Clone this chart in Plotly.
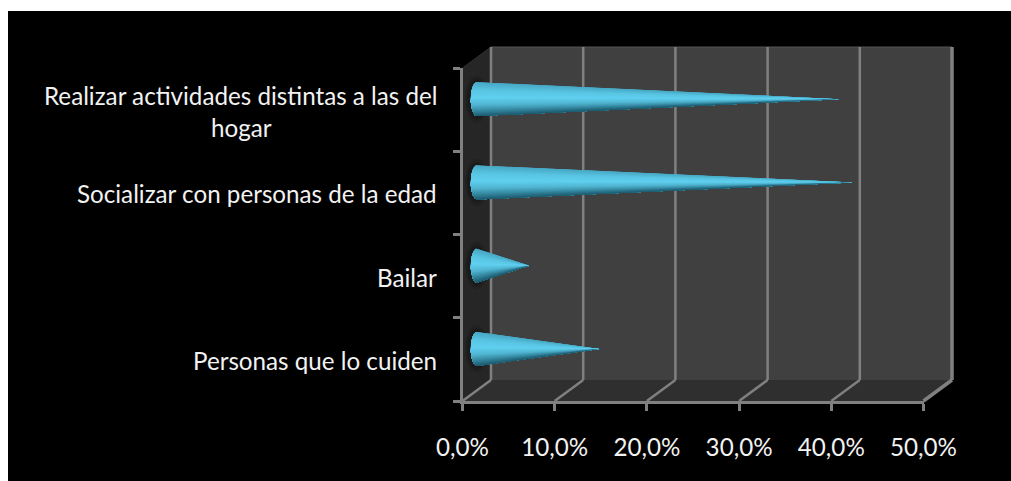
import math
import plotly.graph_objects as go

W, H = 1011, 481
categories = ["Personas que lo cuiden", "Bailar", "Socializar con personas de la edad",
              "Realizar actividades distintas a las del\nhogar"]
values = [0.133, 0.057, 0.408, 0.393]
x_ticks = [0.0, 0.1, 0.2, 0.3, 0.4, 0.5]
y_bounds = [-0.5, 0.5, 1.5, 2.5, 3.5]

FONT = "Lato"
FS = 24.2
TEXT = "#f2f2f2"
GRID = "#808080"

# plot area: the front plane of the 3-D box
L, R, T, B = 462.5, 923.5, 68, 401
DX, DY = 28.5 / (R - L), 21 / (B - T)   # depth in domain fractions


def shape_poly(pts, fill):
    path = "M " + " L ".join(f"{x} {y}" for x, y in pts) + " Z"
    return dict(type="path", path=path, xref="x domain", yref="y domain",
                fillcolor=fill, line_width=0, layer="below")


def shape_line(x0, y0, x1, y1, width=2.5, color=GRID):
    return dict(type="line", x0=x0, y0=y0, x1=x1, y1=y1, xref="x domain", yref="y domain",
                line=dict(color=color, width=width), layer="below")


shapes = [
    dict(type="rect", xref="paper", yref="paper", x0=8 / W, x1=1, y0=0, y1=1 - 11 / H,
         fillcolor="#000000", line_width=0, layer="below"),
    shape_poly([(0, 0), (DX, DY), (DX, 1 + DY), (0, 1)], "#262626"),
    shape_poly([(DX, DY), (1 + DX, DY), (1 + DX, 1 + DY), (DX, 1 + DY)], "#404040"),
    shape_poly([(0, 0), (1, 0), (1 + DX, DY), (DX, DY)], "#2f2f2f"),
    shape_line(DX, 1 + DY, 1 + DX, 1 + DY, 1, "#555555"),
    shape_line(0, 1, DX, 1 + DY, 1, "#333333"),
]
for t in x_ticks:
    f = t / x_ticks[-1]
    w = 3.5 if t == x_ticks[-1] else 2.5
    shapes.append(shape_line(f + DX, DY, f + DX, 1 + DY, w))
    shapes.append(shape_line(f, 0, f + DX, DY, w))

fig = go.Figure()

# cones sit half-way into the depth of the box
x_per_dom = x_ticks[-1]
y_per_dom = y_bounds[-1] - y_bounds[0]
off_x = DX / 2 * x_per_dom
off_y = DY / 2 * y_per_dom
half_h = 17 / (B - T) * y_per_dom
half_w = 6 / (R - L) * x_per_dom


def mix(stops, u):
    for (u0, c0), (u1, c1) in zip(stops, stops[1:]):
        if u <= u1:
            k = (u - u0) / (u1 - u0)
            return "rgb(" + ",".join(str(round(a + (b - a) * k)) for a, b in zip(c0, c1)) + ")"
    return "rgb(%d,%d,%d)" % stops[-1][1]


SHADE = [(-1.0, (30, 92, 112)), (-0.75, (48, 128, 152)), (-0.35, (80, 180, 208)),
         (0.1, (96, 208, 240)), (0.55, (88, 196, 226)), (1.0, (72, 168, 196))]

# soft shadow behind the cone bases
for grow, op in ((1.4, 0.12), (1.2, 0.18)):
    xs, ys = [], []
    for i in range(len(values)):
        for a in range(37):
            th = a * math.pi / 18
            xs.append(off_x + half_w * 1.4 * grow * math.cos(th))
            ys.append(i + off_y + half_h * grow * math.sin(th))
        xs.append(None)
        ys.append(None)
    fig.add_trace(go.Scatter(x=xs, y=ys, mode="lines", fill="toself", line_width=0,
                             fillcolor=f"rgba(0,0,0,{op})", hoverinfo="skip", showlegend=False))

# painter's order: each fan covers everything below its upper angle, so no seams appear
N = 40
for k in range(N, 0, -1):
    a_mid = -math.pi / 2 + math.pi * (k - 0.5) / N
    colour = mix(SHADE, math.sin(a_mid))
    xs, ys = [], []
    for i, v in enumerate(values):
        yc = i + off_y
        for j in range(k + 1):
            a = -math.pi / 2 + math.pi * j / N
            xs.append(off_x - half_w * math.cos(a))
            ys.append(yc + half_h * math.sin(a))
        xs += [off_x + v, None]
        ys += [yc, None]
    fig.add_trace(go.Scatter(x=xs, y=ys, mode="lines", fill="toself", fillcolor=colour,
                             line_width=0, hoverinfo="skip", showlegend=False))

annotations = []
font = dict(family=FONT, size=FS, color=TEXT)
for i, label in enumerate(categories):
    lines = label.split("\n")
    if len(lines) == 1:
        annotations.append(dict(x=439 / W, xref="paper", xanchor="right", y=i, yref="y", yanchor="middle", yshift=-1,
                                text=lines[0], showarrow=False, font=font))
    else:
        annotations.append(dict(x=439 / W, xref="paper", xanchor="right", y=i, yref="y", yanchor="middle", yshift=14,
                                text=lines[0], showarrow=False, font=font))
        annotations.append(dict(x=241 / W, xref="paper", xanchor="center", y=i, yref="y", yanchor="middle", yshift=-18,
                                text=lines[1], showarrow=False, font=font))

fig.update_layout(
    width=W, height=H, autosize=False,
    margin=dict(l=0, r=0, t=0, b=0),
    paper_bgcolor="#ffffff", plot_bgcolor="rgba(0,0,0,0)",
    separators=", ",
    showlegend=False,
    shapes=shapes,
    annotations=annotations,
    xaxis=dict(domain=[L / W, R / W], range=[x_ticks[0], x_ticks[-1]], tickvals=x_ticks, tickformat=".1%",
               ticks="outside", ticklen=7, tickwidth=2.5, tickcolor=GRID, showgrid=False, zeroline=False,
               showline=True, linecolor=GRID, linewidth=2.5, ticklabelstandoff=16, automargin=False,
               tickfont=font),
    yaxis=dict(domain=[1 - B / H, 1 - T / H], range=[y_bounds[0], y_bounds[-1]], tickvals=y_bounds,
               showticklabels=False, ticks="outside", ticklen=7, tickwidth=2.5, tickcolor=GRID, automargin=False,
               showgrid=False, zeroline=False, showline=True, linecolor=GRID, linewidth=2.5),
)

fig.write_html("out.html", config=dict(displayModeBar=False),
               post_script="document.body.style.margin='0';document.body.style.overflow='hidden';")
